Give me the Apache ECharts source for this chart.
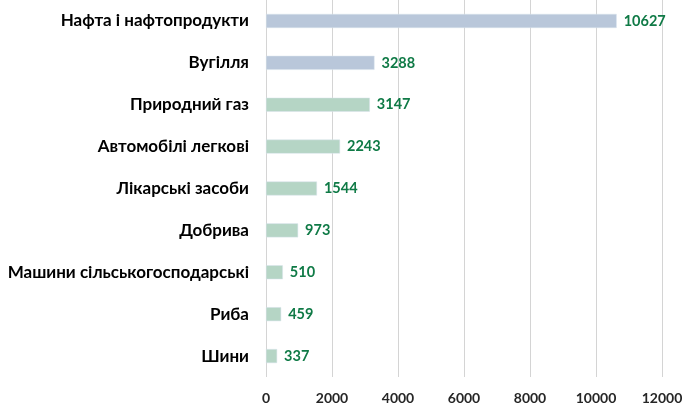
<!DOCTYPE html>
<html><head><meta charset="utf-8">
<script src="https://cdn.jsdelivr.net/npm/echarts@6/dist/echarts.min.js"></script>
<style>html,body{margin:0;padding:0;background:#fff}#c{width:690px;height:410px}</style>
</head><body><div id="c"></div>
<script>
const categories = ["Нафта і нафтопродукти","Вугілля","Природний газ","Автомобілі легкові","Лікарські засоби","Добрива","Машини сільськогосподарські","Риба","Шини"];
const values = [10627,3288,3147,2243,1544,973,510,459,337];
const barColors = ["#b9c7da","#b9c7da","#b5d5c5","#b5d5c5","#b5d5c5","#b5d5c5","#b5d5c5","#b5d5c5","#b5d5c5"];
const xTicks = [0,2000,4000,6000,8000,10000,12000];
const font = "Lato, 'Open Sans', sans-serif";
const chart = echarts.init(document.getElementById('c'));
chart.setOption({
  animation:false,
  grid:{left:266,right:28,top:0,bottom:33,containLabel:false},
  xAxis:{type:'value',min:xTicks[0],max:xTicks[xTicks.length-1],interval:2000,
    axisLine:{show:false},axisTick:{show:false},
    splitLine:{lineStyle:{color:'#d4d4d4',width:1}},
    axisLabel:{color:'#262626',fontWeight:'bold',fontSize:14,fontFamily:font,margin:14,formatter:v=>String(v)}},
  yAxis:{type:'category',inverse:true,data:categories,
    axisLine:{show:false},axisTick:{show:false},
    axisLabel:{color:'#000',fontWeight:'bold',fontSize:17,fontFamily:font,margin:17}},
  series:[{type:'bar',barWidth:14,
    data:values.map((v,i)=>({value:v,itemStyle:{color:barColors[i],borderColor:'#d8e2ec',borderWidth:0.5}})),
    label:{show:true,position:'right',distance:7,color:'#0f7a46',fontWeight:'bold',fontSize:14.5,fontFamily:font}}]
});
</script></body></html>
